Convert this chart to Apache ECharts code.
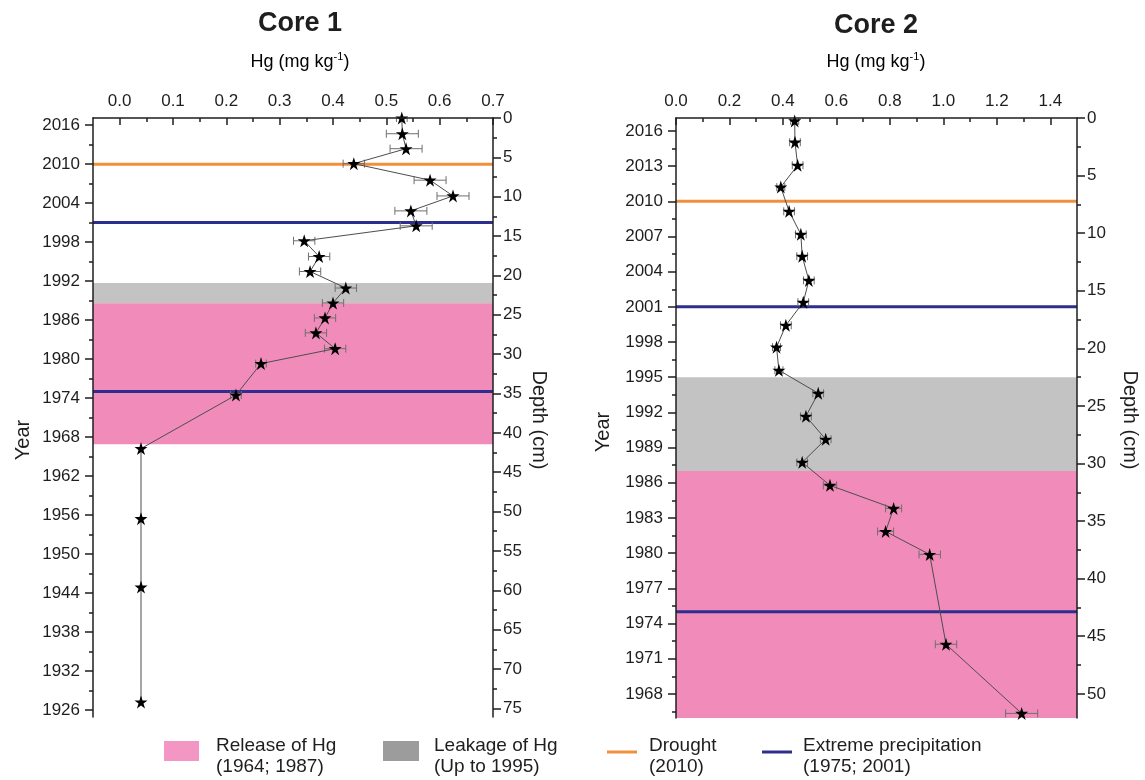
<!DOCTYPE html>
<html>
<head>
<meta charset="utf-8">
<script src="https://cdn.jsdelivr.net/npm/echarts@6/dist/echarts.min.js"></script>
<style>
  html, body { margin: 0; padding: 0; background: #ffffff; }
  #chart { width: 1145px; height: 780px; }
</style>
</head>
<body>
<div id="chart"></div>
<script>
// ---- Core 1: Hg concentration (mg/kg) by depth (cm), with ± error ----
const core1Hg    = [0.529, 0.530, 0.537, 0.439, 0.582, 0.625, 0.546, 0.556, 0.346, 0.374, 0.357, 0.424, 0.400, 0.385, 0.368, 0.404, 0.265, 0.218, 0.040, 0.040, 0.040, 0.040];
const core1Depth = [0, 2.0, 3.9, 5.8, 7.9, 9.9, 11.8, 13.7, 15.6, 17.6, 19.5, 21.6, 23.5, 25.4, 27.3, 29.3, 31.2, 35.2, 42.0, 50.9, 59.6, 74.2];
const core1Err   = [0.01, 0.03, 0.03, 0.02, 0.03, 0.03, 0.03, 0.03, 0.02, 0.02, 0.02, 0.02, 0.02, 0.02, 0.02, 0.02, 0.01, 0.01, 0, 0, 0, 0];

// ---- Core 2 ----
const core2Hg    = [0.444, 0.445, 0.455, 0.392, 0.423, 0.467, 0.472, 0.497, 0.476, 0.411, 0.376, 0.385, 0.532, 0.486, 0.560, 0.472, 0.576, 0.814, 0.784, 0.949, 1.010, 1.293];
const core2Depth = [0.25, 2.1, 4.1, 6.0, 8.1, 10.1, 12.0, 14.1, 16.0, 18.0, 19.9, 21.9, 23.9, 25.9, 27.9, 29.9, 31.9, 33.9, 35.9, 37.9, 45.7, 51.7];
const core2Err   = [0.015, 0.02, 0.02, 0.015, 0.02, 0.02, 0.02, 0.02, 0.02, 0.02, 0.015, 0.015, 0.02, 0.02, 0.02, 0.02, 0.025, 0.03, 0.03, 0.04, 0.04, 0.06];

// ---- Shaded periods [from year, to year] and event years ----
const core1Leakage = [1991.7, 1988.6];
const core1Release = [1988.6, 1966.9];
const core2Leakage = [1995.0, 1987.0];
const core2Release = [1987.0, 1960.0];
const droughtYears = [2010];
const precipYears  = [2001, 1975];

// ---- Axis ranges and tick labels ----
const core1HgRange    = [-0.05, 0.7];
const core1YearRange  = [1924.9, 2017.1];
const core1DepthRange = [0, 76.1];
const core1HgTicks    = [0, 0.1, 0.2, 0.3, 0.4, 0.5, 0.6, 0.7];
const core1YearTicks  = [2016, 2010, 2004, 1998, 1992, 1986, 1980, 1974, 1968, 1962, 1956, 1950, 1944, 1938, 1932, 1926];
const core1DepthTicks = [0, 5, 10, 15, 20, 25, 30, 35, 40, 45, 50, 55, 60, 65, 70, 75];

const core2HgRange    = [0, 1.5];
const core2YearRange  = [1965.95, 2017.1];
const core2DepthRange = [0, 52.1];
const core2HgTicks    = [0, 0.2, 0.4, 0.6, 0.8, 1.0, 1.2, 1.4];
const core2YearTicks  = [2016, 2013, 2010, 2007, 2004, 2001, 1998, 1995, 1992, 1989, 1986, 1983, 1980, 1977, 1974, 1971, 1968];
const core2DepthTicks = [0, 5, 10, 15, 20, 25, 30, 35, 40, 45, 50];

// ---- Styling ----
const FONT = '"Liberation Sans", Arial, Helvetica, sans-serif';
const INK = '#1e1e1e';
const PINK = '#F18CBA';
const GREY = '#C3C3C3';
const ORANGE = '#F0903A';
const NAVY = '#2D2E8E';
const STAR = 'path://M50,2 L61.2,36.2 L97.6,36.2 L68.2,57.6 L79.4,92 L50,70.8 L20.6,92 L31.8,57.6 L2.4,36.2 L38.8,36.2 Z';

// midpoints between major ticks (used for minor tick marks)
function between(ticks, lo, hi) {
  const out = [];
  for (let i = 0; i < ticks.length - 1; i++) out.push(+((ticks[i] + ticks[i + 1]) / 2).toFixed(3));
  const step = ticks[1] - ticks[0];
  const before = +(ticks[0] - step / 2).toFixed(3);
  const after = +(ticks[ticks.length - 1] + step / 2).toFixed(3);
  if (before > lo && before < hi) out.unshift(before);
  if (after > lo && after < hi) out.push(after);
  return out;
}

const lineSt = { color: INK, width: 1.5 };
const labelSt = { fontFamily: FONT, fontSize: 17, color: INK };

function xAxes(g, range, ticks) {
  return [
    {
      gridIndex: g, type: 'value', position: 'top', min: range[0], max: range[1], z: 10,
      axisLine: { show: true, onZero: false, lineStyle: lineSt },
      axisTick: { show: true, inside: true, length: 7, customValues: ticks, lineStyle: lineSt },
      axisLabel: Object.assign({ show: true, customValues: ticks, margin: 8, formatter: v => v.toFixed(1) }, labelSt),
      splitLine: { show: false }
    },
    {
      gridIndex: g, type: 'value', position: 'top', min: range[0], max: range[1], z: 10,
      axisLine: { show: false, onZero: false },
      axisTick: { show: true, inside: true, length: 4, customValues: between(ticks, range[0], range[1]), lineStyle: lineSt },
      axisLabel: { show: false },
      splitLine: { show: false }
    }
  ];
}

function yAxes(g, yearRange, yearTicks, depthRange, depthTicks) {
  return [
    {
      gridIndex: g, type: 'value', position: 'left', min: yearRange[0], max: yearRange[1], z: 10,
      axisLine: { show: true, onZero: false, lineStyle: lineSt },
      axisTick: { show: true, inside: false, length: 8, customValues: yearTicks, lineStyle: lineSt },
      axisLabel: Object.assign({ show: true, customValues: yearTicks, margin: 13, formatter: v => String(v) }, labelSt),
      splitLine: { show: false }
    },
    {
      gridIndex: g, type: 'value', position: 'left', min: yearRange[0], max: yearRange[1], z: 10,
      axisLine: { show: false, onZero: false },
      axisTick: { show: true, inside: false, length: 4, customValues: between(yearTicks, yearRange[0], yearRange[1]), lineStyle: lineSt },
      axisLabel: { show: false },
      splitLine: { show: false }
    },
    {
      gridIndex: g, type: 'value', position: 'right', inverse: true, min: depthRange[0], max: depthRange[1], z: 10,
      axisLine: { show: true, onZero: false, lineStyle: lineSt },
      axisTick: { show: true, inside: false, length: 8, customValues: depthTicks, lineStyle: lineSt },
      axisLabel: Object.assign({ show: true, customValues: depthTicks, margin: 10, formatter: v => String(v) }, labelSt),
      splitLine: { show: false }
    },
    {
      gridIndex: g, type: 'value', position: 'right', inverse: true, min: depthRange[0], max: depthRange[1], z: 10,
      axisLine: { show: false, onZero: false },
      axisTick: { show: true, inside: false, length: 4, customValues: between(depthTicks, depthRange[0], depthRange[1]), lineStyle: lineSt },
      axisLabel: { show: false },
      splitLine: { show: false }
    }
  ];
}

// horizontal shaded period spanning the whole plot width
function bandSeries(xi, yi, periods) {
  return {
    type: 'custom', xAxisIndex: xi, yAxisIndex: yi, clip: true, z: 1, silent: true,
    encode: { y: [0, 1] },
    data: periods,
    renderItem(params, api) {
      const cs = params.coordSys;
      const a = api.coord([cs.x, api.value(0)]);
      const b = api.coord([cs.x, api.value(1)]);
      const y0 = Math.min(a[1], b[1]);
      return {
        type: 'rect',
        shape: { x: cs.x, y: y0, width: cs.width, height: Math.abs(b[1] - a[1]) },
        style: { fill: api.value(2) === 0 ? GREY : PINK }
      };
    }
  };
}

// horizontal event line at a given year
function eventSeries(xi, yi, events) {
  return {
    type: 'custom', xAxisIndex: xi, yAxisIndex: yi, clip: true, z: 2, silent: true,
    encode: { y: 0 },
    data: events,
    renderItem(params, api) {
      const cs = params.coordSys;
      const y = api.coord([0, api.value(0)])[1];
      return {
        type: 'line',
        shape: { x1: cs.x, y1: y, x2: cs.x + cs.width, y2: y },
        style: { stroke: api.value(1) === 0 ? ORANGE : NAVY, lineWidth: 3 }
      };
    }
  };
}

// horizontal error bars with end caps
function errorSeries(xi, yi, hg, depth, err) {
  return {
    type: 'custom', xAxisIndex: xi, yAxisIndex: yi, clip: true, z: 3, silent: true,
    encode: { x: 0, y: 1 },
    data: hg.map((h, i) => [h, depth[i], err[i]]),
    renderItem(params, api) {
      const e = api.value(2);
      if (!e) return null;
      const lo = api.coord([api.value(0) - e, api.value(1)]);
      const hi = api.coord([api.value(0) + e, api.value(1)]);
      const st = { stroke: '#6f6f6f', lineWidth: 1 };
      return {
        type: 'group',
        children: [
          { type: 'line', shape: { x1: lo[0], y1: lo[1], x2: hi[0], y2: hi[1] }, style: st },
          { type: 'line', shape: { x1: lo[0], y1: lo[1] - 4, x2: lo[0], y2: lo[1] + 4 }, style: st },
          { type: 'line', shape: { x1: hi[0], y1: hi[1] - 4, x2: hi[0], y2: hi[1] + 4 }, style: st }
        ]
      };
    }
  };
}

function profileSeries(name, xi, yi, hg, depth) {
  return {
    name, type: 'line', xAxisIndex: xi, yAxisIndex: yi, z: 4, clip: true,
    data: hg.map((h, i) => [h, depth[i]]),
    symbol: STAR, symbolSize: 13, showAllSymbol: true,
    itemStyle: { color: '#000000' },
    lineStyle: { color: '#4d4d4d', width: 1 },
    animation: false
  };
}

const periods1 = [[core1Leakage[0], core1Leakage[1], 0], [core1Release[0], core1Release[1], 1]];
const periods2 = [[core2Leakage[0], core2Leakage[1], 0], [core2Release[0], core2Release[1], 1]];
const events = droughtYears.map(y => [y, 0]).concat(precipYears.map(y => [y, 1]));

const hgTitle = {
  text: '{a|Hg (mg kg}{s|-1}{a|)}',
  rich: {
    a: { fontFamily: FONT, fontSize: 18, color: INK, lineHeight: 22 },
    s: { fontFamily: FONT, fontSize: 11, color: INK, lineHeight: 12, verticalAlign: 'top' }
  },
  align: 'center', verticalAlign: 'middle'
};

function txt(x, y, text, extra, rot) {
  return {
    type: 'text', x, y, rotation: rot || 0, z: 20,
    style: Object.assign({ text, fontFamily: FONT, fontSize: 20, fill: INK, align: 'center', verticalAlign: 'middle' }, extra || {})
  };
}

const legendFont = { fontSize: 19, lineHeight: 21, align: 'left', verticalAlign: 'top' };

const option = {
  backgroundColor: '#ffffff',
  animation: false,
  grid: [
    { left: 93, top: 118, width: 400, height: 599 },
    { left: 676, top: 118, width: 401, height: 600 }
  ],
  xAxis: xAxes(0, core1HgRange, core1HgTicks).concat(xAxes(1, core2HgRange, core2HgTicks)),
  yAxis: yAxes(0, core1YearRange, core1YearTicks, core1DepthRange, core1DepthTicks)
    .concat(yAxes(1, core2YearRange, core2YearTicks, core2DepthRange, core2DepthTicks)),
  series: [
    bandSeries(0, 0, periods1),
    eventSeries(0, 0, events),
    errorSeries(0, 2, core1Hg, core1Depth, core1Err),
    profileSeries('Core 1', 0, 2, core1Hg, core1Depth),
    bandSeries(2, 4, periods2),
    eventSeries(2, 4, events),
    errorSeries(2, 6, core2Hg, core2Depth, core2Err),
    profileSeries('Core 2', 2, 6, core2Hg, core2Depth)
  ],
  graphic: [
    txt(300, 24, 'Core 1', { fontSize: 27, fontWeight: 'bold' }),
    { type: 'text', x: 300, y: 62, z: 20, style: hgTitle },
    txt(876, 26, 'Core 2', { fontSize: 27, fontWeight: 'bold' }),
    { type: 'text', x: 876, y: 62, z: 20, style: hgTitle },
    txt(23, 440, 'Year', null, Math.PI / 2),
    txt(539, 420, 'Depth (cm)', null, -Math.PI / 2),
    txt(603, 432, 'Year', null, Math.PI / 2),
    txt(1130, 420, 'Depth (cm)', null, -Math.PI / 2),

    // legend
    { type: 'rect', shape: { x: 164, y: 741, width: 35, height: 20 }, style: { fill: '#F396C3' } },
    txt(216, 735, 'Release of Hg\n(1964; 1987)', legendFont),
    { type: 'rect', shape: { x: 383, y: 741, width: 36, height: 20 }, style: { fill: '#9C9C9C' } },
    txt(434, 735, 'Leakage of Hg\n(Up to 1995)', legendFont),
    { type: 'line', shape: { x1: 607, y1: 752, x2: 637, y2: 752 }, style: { stroke: ORANGE, lineWidth: 3 } },
    txt(649, 735, 'Drought\n(2010)', legendFont),
    { type: 'line', shape: { x1: 762, y1: 752, x2: 792, y2: 752 }, style: { stroke: NAVY, lineWidth: 3 } },
    txt(803, 735, 'Extreme precipitation\n(1975; 2001)', legendFont)
  ]
};

const chart = echarts.init(document.getElementById('chart'), null, { renderer: 'canvas' });
chart.setOption(option);
</script>
</body>
</html>
